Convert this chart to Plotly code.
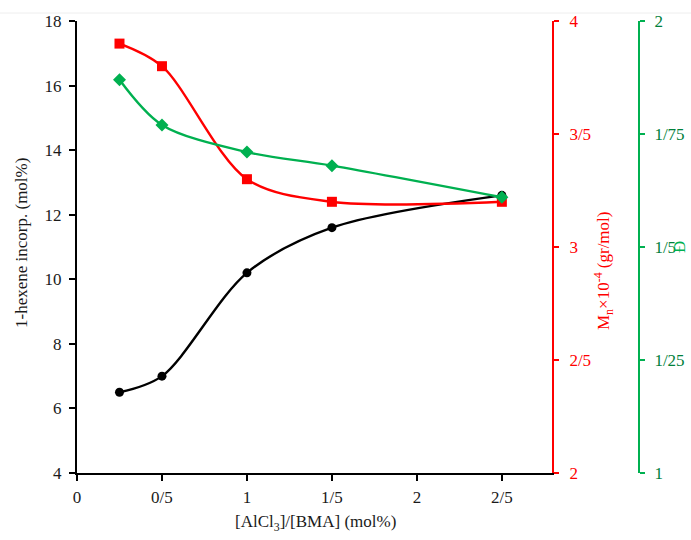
import plotly.graph_objects as go

# AlCl3/BMA ratio (mol%)
ratio = [0.25, 0.5, 1.0, 1.5, 2.5]
# 1-hexene incorporation (mol%)
hexene = [6.5, 7.0, 10.2, 11.6, 12.6]
# Mn x 10^-4 (gr/mol)
mn = [3.9, 3.8, 3.3, 3.2, 3.2]
# dispersity
dispersity = [1.87, 1.77, 1.71, 1.68, 1.61]

x_ticks = [0, 0.5, 1, 1.5, 2, 2.5]
x_ticklabels = ["0", "0/5", "1", "1/5", "2", "2/5"]
y_ticks = [4, 6, 8, 10, 12, 14, 16, 18]
mn_ticks = [2, 2.5, 3, 3.5, 4]
mn_ticklabels = ["2", "2/5", "3", "3/5", "4"]
d_ticks = [1, 1.25, 1.5, 1.75, 2]
d_ticklabels = ["1", "1/25", "1/5", "1/75", "2"]

FONT = "Liberation Serif, Times New Roman, serif"
RED = "#FF0000"
GREEN = "#00B050"
GREEN_TXT = "#00803A"
INK = "#1a1a1a"

W, H = 691, 540
ML, MR, MT, MB = 77, 5, 21, 67
plot_w = W - ML - MR
plot_h = H - MT - MB
x_right_px = 552
green_px = 639
dom_end = (x_right_px - ML) / plot_w
green_pos = (green_px - ML) / plot_w


def px(pixel_x):
    return (pixel_x - ML) / plot_w


def py(pixel_y):
    return 1 - (pixel_y - MT) / plot_h


fig = go.Figure()

fig.add_trace(go.Scatter(
    x=ratio, y=mn, yaxis="y2", mode="lines+markers",
    line=dict(color=RED, width=2.4, shape="spline", smoothing=0.9),
    marker=dict(symbol="square", size=10, color=RED),
    showlegend=False, cliponaxis=False,
))
fig.add_trace(go.Scatter(
    x=ratio, y=hexene, yaxis="y", mode="lines+markers",
    line=dict(color="black", width=2.4, shape="spline", smoothing=0.9),
    marker=dict(symbol="circle", size=9, color="black"),
    showlegend=False, cliponaxis=False,
))
fig.add_trace(go.Scatter(
    x=ratio, y=dispersity, yaxis="y3", mode="lines+markers",
    line=dict(color=GREEN, width=2.4, shape="spline", smoothing=0.9),
    marker=dict(symbol="diamond", size=10, color=GREEN),
    showlegend=False, cliponaxis=False,
))

tickfont = dict(family=FONT, size=17, color=INK)

fig.update_layout(
    width=W, height=H,
    margin=dict(l=ML, r=MR, t=MT, b=MB),
    paper_bgcolor="white", plot_bgcolor="white",
    font=dict(family=FONT, size=17, color=INK),
    xaxis=dict(
        domain=[0, dom_end], range=[0, 2.795],
        tickvals=x_ticks, ticktext=x_ticklabels,
        showgrid=False, zeroline=False,
        showline=True, linecolor="black", linewidth=2,
        ticks="outside", ticklen=6, tickwidth=1.5, tickcolor="black",
        tickfont=tickfont, ticklabelstandoff=2,
    ),
    yaxis=dict(
        range=[4, 18], tickvals=y_ticks,
        showgrid=False, zeroline=False,
        showline=True, linecolor="black", linewidth=2,
        ticks="outside", ticklen=6, tickwidth=1.5, tickcolor="black",
        tickfont=tickfont, ticklabelstandoff=4,
    ),
    yaxis2=dict(
        range=[2, 4], tickvals=mn_ticks, ticktext=mn_ticklabels,
        overlaying="y", side="right", anchor="x",
        showgrid=False, zeroline=False,
        showline=True, linecolor=RED, linewidth=2,
        ticks="outside", ticklen=5, tickwidth=2, tickcolor=RED,
        tickfont=dict(family=FONT, size=17, color=RED), ticklabelstandoff=7,
    ),
    yaxis3=dict(
        range=[1, 2], tickvals=d_ticks, ticktext=d_ticklabels,
        overlaying="y", side="right", anchor="free", position=green_pos,
        showgrid=False, zeroline=False,
        showline=True, linecolor=GREEN, linewidth=2,
        ticks="outside", ticklen=5, tickwidth=2, tickcolor=GREEN,
        tickfont=dict(family=FONT, size=17, color=GREEN_TXT), ticklabelstandoff=6,
    ),
)

# faint frame line along the top of the figure
fig.add_shape(type="line", xref="paper", yref="paper",
              x0=px(0), x1=px(W), y0=py(13), y1=py(13),
              line=dict(color="#eeeeee", width=1))


def title(text, x, y, color, angle=0):
    fig.add_annotation(
        text=text, textangle=angle,
        x=px(x), y=py(y), xref="paper", yref="paper",
        xanchor="center", yanchor="middle", showarrow=False,
        font=dict(family=FONT, size=17, color=color),
    )


# axis titles
title("[AlCl<sub>3</sub>]/[BMA] (mol%)", 315, 523, INK)
title("1-hexene incorp. (mol%)", 21, 243, INK, -90)
title("M<sub>n</sub>×10<sup>-4</sup> (gr/mol)", 603, 271, RED, -90)
title("Đ", 679, 247, GREEN, -90)

fig.write_html("out.html")
